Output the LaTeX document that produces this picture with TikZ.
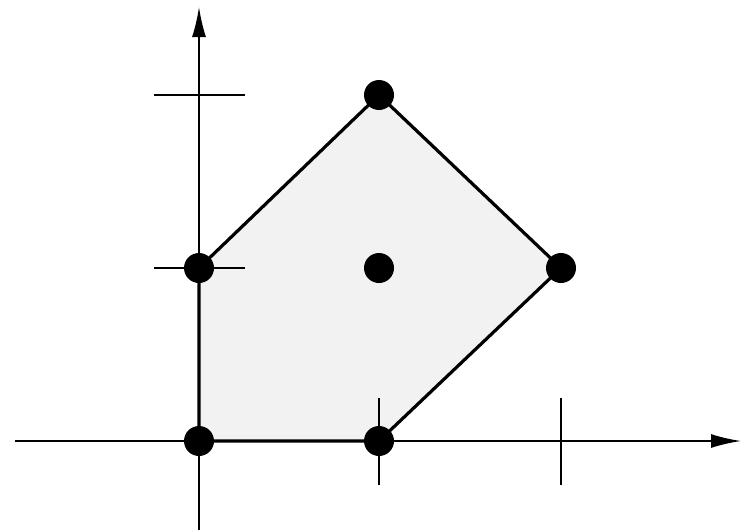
\documentclass[tikz,border=0pt]{standalone}
\usetikzlibrary{arrows.meta}
\definecolor{polyfill}{HTML}{F2F2F2}
\tikzset{
  axisline/.style={line width=1.8pt,-{Latex[length=30pt,width=14pt]}},
  tickline/.style={line width=1.8pt},
  polyedge/.style={line width=3.2pt,line join=round,fill=polyfill},
  dotmark/.style={circle,fill=black,inner sep=0pt,minimum size=30pt}
}
\begin{document}
\begin{tikzpicture}[x=1pt,y=-1pt]
\useasboundingbox (0,0) rectangle (754,530);
\coordinate (O) at (199,441);
\coordinate (A) at (379,441);
\coordinate (B) at (561,268);
\coordinate (C) at (379,95);
\coordinate (D) at (199,268);
\coordinate (E) at (379,268);
\coordinate (xs) at (15,441);
\coordinate (xe) at (741,441);
\coordinate (ys) at (199,530);
\coordinate (ye) at (199,7);
\filldraw[polyedge] (O) -- (A) -- (B) -- (C) -- (D) -- cycle;
\draw[axisline] (xs) -- (xe);
\draw[axisline] (ys) -- (ye);
\draw[tickline] (154,95) -- (245,95);
\draw[tickline] (154,268) -- (245,268);
\draw[tickline] (379,398) -- (379,485);
\draw[tickline] (561,398) -- (561,485);
\foreach \p in {O,A,B,C,D,E} \node[dotmark] (n\p) at (\p) {};
\end{tikzpicture}
\end{document}
